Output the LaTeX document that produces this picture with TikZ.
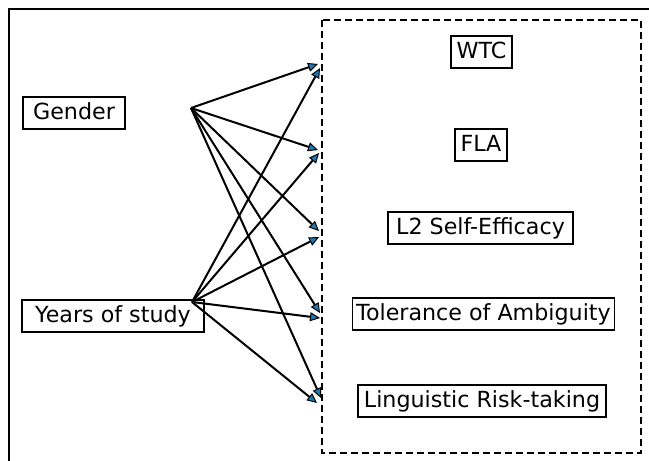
\documentclass[tikz,border=0pt]{standalone}
\usepackage{fontspec}
\setmainfont{DejaVu Sans}
\usetikzlibrary{arrows.meta}
\definecolor{arrblue}{HTML}{1F77B4}
\tikzset{
  lbl/.style={draw=black, line width=1.8pt, inner xsep=0pt, inner ysep=0pt,
    minimum height=32pt, text height=17pt, text depth=5pt,
    font=\fontsize{22.2pt}{26pt}\selectfont},
  conn/.style={line width=2pt, -{Triangle[length=10pt,width=9pt,fill=arrblue,line width=1pt]}},
  frame/.style={line width=2pt},
  group/.style={line width=2.2pt, dash pattern=on 7pt off 4pt}
}
\begin{document}
\begin{tikzpicture}[x=1pt,y=-1pt]
\useasboundingbox (0,0) rectangle (649,461);
% partial outer frame
\draw[frame] (9,461) -- (9,9) -- (649,9);
% dashed group box
\draw[group] (322,20) rectangle (641,453);
% nodes
\node[lbl, minimum width=102pt] (gender) at (74,113) {Gender};
\node[lbl, minimum width=182pt] (years) at (113,316) {Years of study};
\node[lbl, minimum width=61pt] (wtc) at (481.5,52) {WTC};
\node[lbl, minimum width=52pt] (fla) at (481,145) {FLA};
\node[lbl, minimum width=185pt] (l2) at (480.5,228) {L2 Self-Efficacy};
\node[lbl, minimum width=262pt] (tol) at (483.5,314) {Tolerance of Ambiguity};
\node[lbl, minimum width=248pt] (ling) at (482,401) {Linguistic Risk-taking};
% connector end points
\coordinate (gs) at (191,108);
\coordinate (ys) at (192,302);
\coordinate (g1) at (318,64);
\coordinate (g2) at (318,150);
\coordinate (g3) at (319,231);
\coordinate (g4) at (320,313);
\coordinate (g5) at (321,398);
\coordinate (y1) at (320,68);
\coordinate (y2) at (319,153);
\coordinate (y3) at (319,237);
\coordinate (y4) at (320,318);
\coordinate (y5) at (317,403);
\foreach \t in {g1,g2,g3,g4,g5} \draw[conn] (gs) -- (\t);
\foreach \t in {y1,y2,y3,y4,y5} \draw[conn] (ys) -- (\t);
\end{tikzpicture}
\end{document}
